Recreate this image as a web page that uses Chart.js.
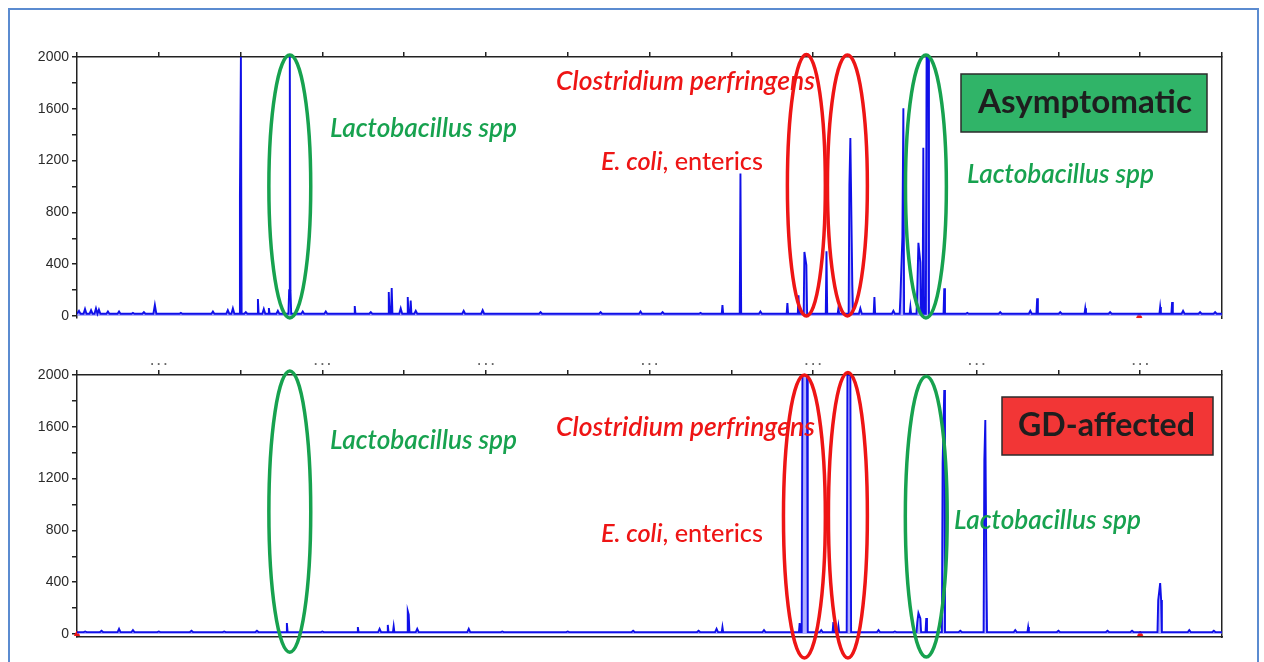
<!DOCTYPE html>
<html>
<head>
<meta charset="utf-8">
<script src="https://cdn.jsdelivr.net/npm/chart.js@4.4.0/dist/chart.umd.min.js"></script>
<style>
  body { margin: 0; background: #fff; width: 1264px; height: 662px; overflow: hidden; position: relative; }
  #frame { position: absolute; left: 8px; top: 8px; width: 1247px; height: 700px; border: 2px solid #5b8bd0; }
  canvas { position: absolute; left: 0; }
  #topChart { top: 0; }
  #bottomChart { top: 340px; }
</style>
</head>
<body>
<div id="frame"></div>
<canvas id="topChart" width="1264" height="340"></canvas>
<canvas id="bottomChart" width="1264" height="322"></canvas>
<script>
// fragment size axis (bp) and signal axis
const X_MAX = 700
const yTickValues = [0, 200, 400, 600, 800, 1000, 1200, 1400, 1600, 1800, 2000]
const yTickLabels = [0, 400, 800, 1200, 1600, 2000]

// Asymptomatic trace: main peaks
const topPeakBp     = [99.6, 100.2, 110.6, 117.3, 129.7, 130.1, 130.5, 169.8, 190.6, 192.4, 202.2, 204.0,
                       394.6, 405.6, 434.3, 441.1, 444.7, 445.9, 458.2, 465.5, 472.2, 472.8, 474.0, 487.5,
                       503.4, 504.6, 505.2, 509.5, 513.7, 514.4, 515.6, 517.4, 519.4, 520.4, 530.2, 587.0,
                       616.4, 662.2, 669.5]
const topPeakHeight = [930, 2000, 131, 62, 200, 2000, 200, 77, 185, 216, 147, 120,
                       85, 1100, 100, 160, 495, 394, 500, 60, 1010, 1375, 240, 147,
                       150, 610, 1605, 70, 200, 565, 415, 1300, 2000, 2000, 215, 138,
                       60, 70, 108]
// Asymptomatic trace: small baseline bumps
const topNoiseBp     = [1.2, 4.9, 8.6, 11.6, 13.4, 18.9, 25.7, 34.2, 40.9, 47.6, 63.5, 83.1, 92.2, 95.3,
                        103.2, 114.2, 122.8, 138, 152.1, 179.6, 197.9, 207.1, 236.4, 248.0, 283.4, 320.1,
                        344.5, 358.0, 381.2, 417.8, 478.9, 499.1, 544.3, 564.4, 582.8, 601.1, 631.6, 676.2,
                        686.6, 695.8]
const topNoiseHeight = [40, 55, 45, 60, 50, 35, 35, 25, 30, 85, 25, 35, 45, 60,
                        30, 55, 40, 35, 35, 30, 60, 40, 40, 45, 30, 30,
                        35, 30, 25, 35, 60, 40, 25, 30, 40, 30, 30, 40,
                        30, 30]
const topBaseline = 18
const topMarkers = [649.4]

// GD-affected trace: main peaks
const botPeakBp     = [128.3, 171.7, 190.0, 193.6, 202.2, 202.8, 394.6, 441.8, 443.5, 444.4, 445.4, 446.3,
                       462.4, 465.5, 471.0, 471.9, 472.8, 513.7, 514.4, 515.6, 519.2, 529.2, 530.2,
                       554.7, 555.3, 555.9, 581.5, 661.0, 662.2, 662.8]
const botPeakHeight = [85, 54, 70, 60, 178, 150, 54, 85, 2000, 2000, 2000, 2000,
                       93, 60, 2000, 2000, 2000, 90, 162, 120, 124, 1320, 1884,
                       1344, 1652, 571, 54, 262, 394, 262]
// GD-affected trace: small baseline bumps
const botNoiseBp     = [5, 15, 25.7, 34.2, 50, 70, 90, 110, 150, 185, 208, 239.5, 260, 300, 340, 380, 391,
                        420, 455, 490, 500, 540, 573.6, 600, 630, 645, 680, 695]
const botNoiseHeight = [20, 25, 40, 30, 20, 25, 20, 25, 20, 40, 40, 40, 20, 20, 25, 25, 40,
                        30, 30, 30, 20, 25, 30, 25, 25, 25, 30, 25]
const botBaseline = 15
const botMarkers = [0, 650]

const PEAK_HALF = 0.45, NOISE_HALF = 0.9, MERGE_GAP = 1.25

function buildTrace(pos, height, noisePos, noiseHeight, base) {
  const peaks = pos.map((p, i) => ({x: p, y: height[i], h: PEAK_HALF}))
    .concat(noisePos.map((p, i) => ({x: p, y: noiseHeight[i], h: NOISE_HALF})))
    .sort((a, b) => a.x - b.x)
  const pts = [{x: 0, y: base}]
  peaks.forEach((pk, i) => {
    const prev = peaks[i - 1], next = peaks[i + 1]
    if (!prev || pk.x - prev.x > MERGE_GAP) pts.push({x: pk.x - pk.h, y: base})
    pts.push({x: pk.x, y: pk.y})
    if (!next || next.x - pk.x > MERGE_GAP) pts.push({x: pk.x + pk.h, y: base})
  })
  pts.push({x: X_MAX, y: base})
  return pts
}

const GREEN = '#17a24f', RED = '#ee1515'
const FONT = 'Lato, "Open Sans", sans-serif'

// annotation layer: circled peaks, species names, group box
function notesPlugin(spec) {
  return {
    id: 'notes',
    afterDatasetsDraw(chart) {
      const ctx = chart.ctx, xs = chart.scales.x, ys = chart.scales.y
      ctx.save()
      spec.ellipses.forEach(e => {
        const cx = xs.getPixelForValue(e.bp)
        const rx = xs.getPixelForValue(e.bp + e.hw) - cx
        const t = ys.getPixelForValue(e.top), b = ys.getPixelForValue(e.bottom)
        ctx.beginPath()
        ctx.ellipse(cx, (t + b) / 2, rx, (b - t) / 2, 0, 0, Math.PI * 2)
        ctx.lineWidth = 3.5
        ctx.strokeStyle = e.color
        ctx.stroke()
      })
      const bx = spec.box
      ctx.fillStyle = bx.fill
      ctx.fillRect(bx.x, bx.y, bx.w, bx.h)
      ctx.lineWidth = 1.5
      ctx.strokeStyle = '#2b2b2b'
      ctx.strokeRect(bx.x, bx.y, bx.w, bx.h)
      spec.texts.concat([bx.label]).forEach(tx => {
        // size the font so the text spans the measured width
        const measure = size => tx.parts.reduce((w, p) => {
          ctx.font = p.style + ' ' + size + 'px ' + FONT
          return w + ctx.measureText(p.t).width
        }, 0)
        const size = 20 * tx.width / measure(20)
        let x = tx.x
        ctx.textBaseline = 'alphabetic'
        tx.parts.forEach(p => {
          ctx.font = p.style + ' ' + size + 'px ' + FONT
          ctx.fillStyle = tx.color
          ctx.fillText(p.t, x, tx.y)
          x += ctx.measureText(p.t).width
        })
      })
      ctx.restore()
    }
  }
}

function lacto(x, y) { return {parts: [{t: 'Lactobacillus spp', style: 'italic 600'}], x, y, width: 187, color: GREEN} }
function clost(y) { return {parts: [{t: 'Clostridium perfringens', style: 'italic 600'}], x: 556, y, width: 259, color: RED} }
function ecoli(y) { return {parts: [{t: 'E. coli', style: 'italic 600'}, {t: ', enterics', style: '500'}], x: 601, y, width: 162, color: RED} }

function makeChart(id, opts) {
  const axisColor = '#222'
  return new Chart(document.getElementById(id), {
    type: 'line',
    data: {
      datasets: [{
        data: opts.trace,
        borderColor: '#1010e8',
        backgroundColor: 'rgba(110,110,255,0.55)',
        borderWidth: 1.9,
        fill: 'origin',
        pointRadius: 0,
        tension: 0
      }, {
        data: opts.markers.map(m => ({x: m, y: 0})),
        showLine: false,
        pointStyle: 'triangle',
        pointRadius: 3,
        pointBackgroundColor: RED,
        pointBorderColor: RED,
        clip: false
      }]
    },
    options: {
      responsive: false,
      animation: false,
      devicePixelRatio: 1,
      layout: {padding: {left: 30, right: 42, top: opts.padTop, bottom: opts.padBottom}},
      plugins: {legend: {display: false}, tooltip: {enabled: false}},
      scales: {
        x: {
          type: 'linear', position: 'top', min: 0, max: X_MAX,
          grid: {drawOnChartArea: false, tickLength: 5, color: axisColor, lineWidth: 1.5},
          border: {color: axisColor, width: 1.5},
          ticks: {
            display: opts.xLabels, stepSize: 50, autoSkip: false, maxRotation: 0, padding: 1,
            color: '#666', font: {family: 'Arial', size: 12, weight: 'bold'},
            callback: v => (v % 100 === 50 ? '. . .' : '')
          },
          afterFit: s => { s.height = opts.xAxisHeight }
        },
        xb: {
          type: 'linear', position: 'bottom', min: 0, max: X_MAX, display: opts.bottomLine,
          grid: {display: false}, ticks: {display: false},
          border: {color: axisColor, width: 1.5},
          afterFit: s => { s.height = 0 }
        },
        y: {
          min: opts.yMin, max: 2000,
          afterBuildTicks: s => { s.ticks = yTickValues.map(v => ({value: v})) },
          grid: {drawOnChartArea: false, tickLength: 5, color: axisColor, lineWidth: 1.5},
          border: {color: axisColor, width: 1.5},
          ticks: {
            autoSkip: false, padding: 3, color: '#2a2a2a',
            font: {family: 'Arial', size: 14},
            callback: v => (yTickLabels.includes(v) ? v : '')
          },
          afterFit: s => { s.width = 47 }
        },
        y2: {
          position: 'right', min: opts.yMin, max: 2000,
          grid: {display: false}, ticks: {display: false},
          border: {color: axisColor, width: 1.5},
          afterFit: s => { s.width = 0 }
        }
      }
    },
    plugins: [notesPlugin(opts.notes)]
  })
}

makeChart('topChart', {
  trace: buildTrace(topPeakBp, topPeakHeight, topNoiseBp, topNoiseHeight, topBaseline),
  markers: topMarkers,
  padTop: 49, padBottom: 22, xAxisHeight: 8, xLabels: false, bottomLine: false, yMin: -15,
  notes: {
    ellipses: [
      {bp: 130.1, hw: 12.8, top: 2015, bottom: -15, color: GREEN},
      {bp: 445.9, hw: 11.6, top: 2020, bottom: 0, color: RED},
      {bp: 471.0, hw: 12.2, top: 2015, bottom: 0, color: RED},
      {bp: 519.0, hw: 12.5, top: 2015, bottom: -15, color: GREEN}
    ],
    texts: [lacto(330, 137), clost(90), ecoli(170), lacto(967, 183)],
    box: {x: 961, y: 74, w: 246, h: 58, fill: '#30b468',
          label: {parts: [{t: 'Asymptomatic', style: 'bold'}], x: 978, y: 113, width: 214, color: '#1e1e1e'}}
  }
})

makeChart('bottomChart', {
  trace: buildTrace(botPeakBp, botPeakHeight, botNoiseBp, botNoiseHeight, botBaseline),
  markers: botMarkers,
  padTop: 15, padBottom: 25, xAxisHeight: 20, xLabels: true, bottomLine: true, yMin: -23,
  notes: {
    ellipses: [
      {bp: 130.1, hw: 12.8, top: 2030, bottom: -140, color: GREEN},
      {bp: 444.7, hw: 12.8, top: 2000, bottom: -185, color: RED},
      {bp: 471.3, hw: 11.9, top: 2020, bottom: -185, color: RED},
      {bp: 519.2, hw: 12.8, top: 1990, bottom: -178, color: GREEN}
    ],
    texts: [lacto(330, 109), clost(96), ecoli(202), lacto(954, 189)],
    box: {x: 1002, y: 57, w: 211, h: 58, fill: '#f23636',
          label: {parts: [{t: 'GD-affected', style: 'bold'}], x: 1018, y: 96, width: 177, color: '#1e1e1e'}}
  }
})
</script>
</body>
</html>
